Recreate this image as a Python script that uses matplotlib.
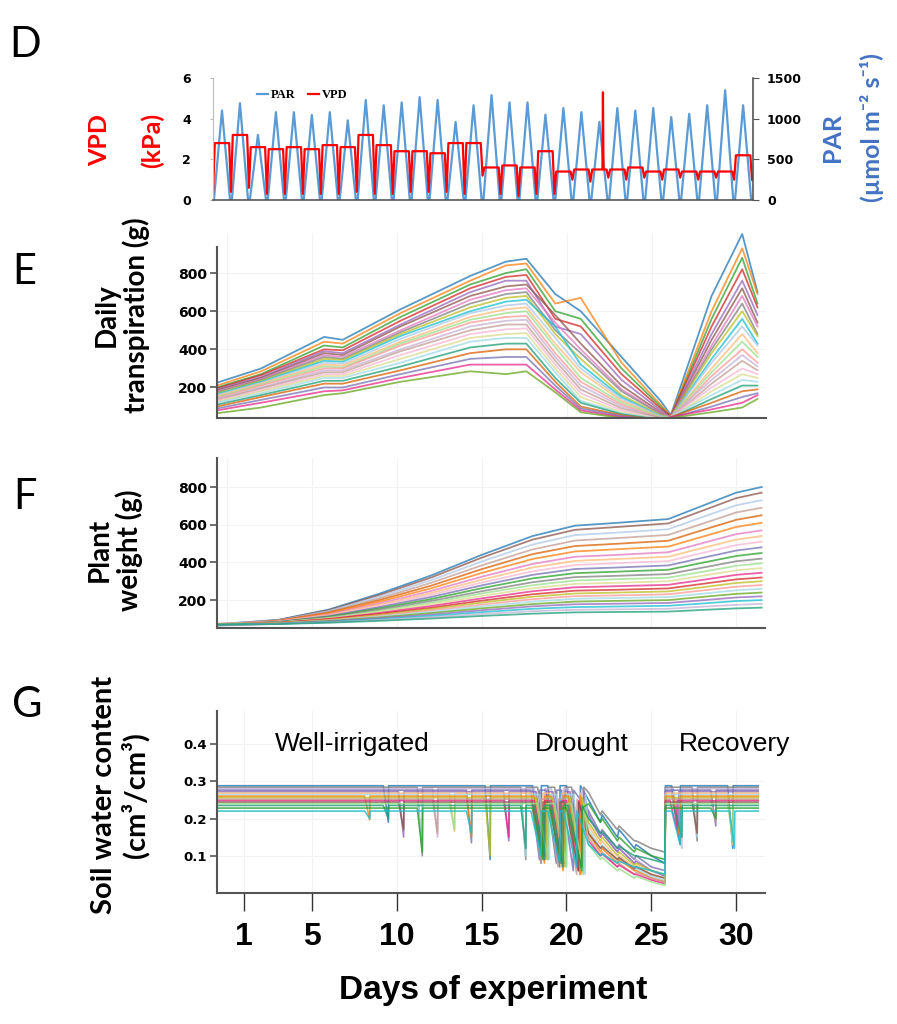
"""
Drought experiment overview: weather, transpiration, plant weight and soil water.
"""
import matplotlib.pyplot as plt

W, H = 897, 1024

# D: weather (daily PAR peak, VPD day plateau and night dip)
par_peaks = [1100, 1190, 800, 1080, 1080, 1045, 1080, 980, 1230, 1165,
             1200, 1265, 1230, 960, 1165, 1290, 1200, 1200, 1050, 1130,
             1080, 960, 1130, 1100, 1130, 1020, 1060, 1165, 1350, 1165]
vpd_high = [2.8, 3.2, 2.6, 2.5, 2.6, 2.5, 2.7, 2.6, 3.2, 2.7,
            2.4, 2.4, 2.3, 2.8, 2.8, 1.6, 1.7, 1.6, 2.4, 1.4,
            1.5, 1.5, 1.5, 1.6, 1.4, 1.5, 1.4, 1.4, 1.4, 2.2]
vpd_low = [0.3, 0.4, 0.6, 0.3, 0.3, 0.3, 0.3, 0.3, 0.4, 0.3,
           0.3, 0.4, 0.4, 0.4, 0.3, 1.2, 0.3, 0.2, 0.3, 0.3,
           1.0, 0.9, 1.1, 1.0, 1.1, 1.0, 1.1, 1.0, 1.1, 1.0]
vpd_spike = (21.7, 5.3)

# E: daily transpiration (g)
transp_days = [-0.6, 2.0, 5.7, 6.8, 10.2, 14.3, 16.4, 17.6,
               19.3, 20.8, 23.2, 25.5, 26.1, 28.5, 30.3, 31.2]
transp_curves = [
    [225, 300, 465, 450, 610, 785, 860, 875, 690, 600, 360, 130, 55, 680, 1005, 700],
    [210, 285, 440, 430, 590, 760, 840, 850, 640, 670, 330, 110, 50, 600, 930, 690],
    [200, 270, 420, 410, 570, 740, 800, 820, 600, 560, 300, 100, 45, 560, 880, 640],
    [195, 265, 400, 395, 550, 720, 780, 790, 560, 520, 270, 90, 50, 520, 820, 620],
    [190, 255, 390, 380, 530, 700, 760, 760, 520, 480, 240, 80, 45, 480, 760, 580],
    [185, 250, 380, 370, 520, 680, 730, 740, 580, 430, 210, 70, 40, 450, 720, 540],
    [180, 245, 370, 360, 500, 660, 710, 720, 540, 400, 190, 65, 45, 420, 680, 520],
    [175, 240, 360, 350, 490, 640, 690, 700, 500, 380, 180, 60, 40, 400, 640, 480],
    [170, 235, 350, 345, 480, 620, 670, 680, 480, 350, 160, 55, 45, 380, 600, 470],
    [165, 230, 340, 335, 470, 600, 650, 660, 520, 320, 150, 50, 40, 350, 560, 430],
    [160, 225, 330, 325, 455, 590, 630, 640, 460, 300, 140, 50, 45, 330, 520, 420],
    [155, 220, 320, 315, 440, 570, 610, 620, 430, 280, 130, 45, 40, 300, 480, 380],
    [150, 215, 310, 305, 430, 555, 590, 600, 410, 250, 120, 45, 45, 280, 440, 360],
    [145, 210, 300, 300, 420, 540, 570, 575, 380, 230, 110, 40, 40, 260, 400, 330],
    [140, 200, 290, 290, 400, 520, 550, 555, 360, 210, 100, 40, 45, 240, 370, 310],
    [135, 195, 280, 280, 390, 500, 530, 530, 340, 190, 90, 40, 40, 220, 340, 290],
    [130, 185, 270, 270, 370, 480, 505, 510, 320, 170, 80, 35, 45, 200, 300, 270],
    [125, 180, 260, 260, 350, 460, 480, 485, 300, 150, 70, 35, 40, 180, 270, 250],
    [120, 170, 250, 250, 330, 440, 460, 460, 280, 130, 65, 35, 45, 160, 240, 230],
    [110, 160, 235, 235, 310, 410, 430, 430, 250, 120, 60, 30, 40, 140, 210, 210],
    [100, 150, 220, 220, 290, 380, 400, 400, 230, 100, 55, 30, 45, 120, 180, 190],
    [90, 135, 200, 200, 270, 350, 360, 360, 210, 90, 50, 30, 40, 100, 150, 170],
    [80, 120, 180, 185, 250, 320, 320, 320, 190, 80, 45, 30, 45, 85, 120, 160],
    [65, 95, 160, 170, 230, 285, 270, 285, 175, 70, 40, 30, 40, 70, 95, 140],
]

# F: plant weight (g)
weight_days = [-0.6, 3, 6, 9, 12, 15, 18, 20.5, 23, 26, 28, 30, 31.5]
weight_curves = [
    [72, 95, 150, 235, 330, 440, 540, 595, 610, 630, 700, 770, 800],
    [70, 94, 147, 228, 319, 425, 521, 573, 588, 607, 674, 741, 770],
    [74, 92, 143, 219, 305, 405, 495, 545, 558, 576, 640, 703, 730],
    [68, 91, 138, 210, 291, 384, 469, 516, 529, 546, 605, 665, 690],
    [71, 90, 134, 201, 276, 364, 444, 487, 499, 515, 571, 626, 650],
    [66, 88, 129, 192, 262, 344, 418, 458, 470, 484, 536, 588, 610],
    [73, 87, 125, 183, 248, 324, 392, 430, 440, 454, 502, 550, 570],
    [69, 86, 122, 176, 237, 308, 373, 408, 418, 430, 476, 521, 540],
    [75, 85, 118, 169, 227, 293, 353, 386, 396, 407, 450, 492, 510],
    [67, 84, 115, 163, 216, 278, 334, 365, 373, 384, 424, 463, 480],
    [72, 83, 112, 156, 205, 263, 315, 343, 351, 361, 398, 434, 450],
    [70, 82, 109, 149, 195, 247, 295, 322, 329, 338, 372, 406, 420],
    [65, 81, 106, 143, 186, 235, 279, 304, 311, 319, 350, 382, 395],
    [73, 80, 103, 138, 177, 222, 263, 286, 292, 300, 329, 358, 370],
    [68, 79, 100, 132, 168, 209, 247, 268, 274, 281, 307, 334, 345],
    [71, 79, 98, 127, 159, 197, 231, 250, 255, 262, 286, 310, 320],
    [66, 78, 95, 122, 152, 187, 218, 235, 240, 246, 268, 291, 300],
    [74, 77, 93, 117, 145, 176, 205, 221, 225, 231, 251, 271, 280],
    [69, 76, 91, 113, 138, 166, 192, 207, 211, 216, 234, 252, 260],
    [72, 76, 89, 108, 131, 156, 179, 192, 196, 200, 217, 233, 240],
    [67, 75, 87, 104, 123, 146, 167, 178, 181, 185, 199, 214, 220],
    [70, 74, 84, 99, 116, 136, 154, 163, 166, 170, 182, 195, 200],
    [64, 74, 82, 95, 109, 126, 141, 149, 151, 154, 165, 175, 180],
    [68, 73, 80, 90, 102, 116, 128, 135, 137, 139, 148, 156, 160],
]

# G: soil water content per pot: level, dips (start, end, min), drought decline
swc_levels = [0.288, 0.284, 0.280, 0.276, 0.272, 0.268, 0.264, 0.260,
              0.256, 0.252, 0.248, 0.244, 0.240, 0.235, 0.228, 0.220]
swc_dips = [
    [(9.2, 9.5, 0.19), (15.2, 15.5, 0.09), (18.0, 18.5, 0.08), (18.9, 19.6, 0.07),
     (20.0, 20.8, 0.06), (26.2, 26.7, 0.13), (29.5, 29.8, 0.12)],
    [(11.2, 11.5, 0.10), (17.3, 17.6, 0.09), (18.3, 18.9, 0.09), (19.3, 19.9, 0.08),
     (20.3, 21.0, 0.06), (27.4, 27.7, 0.14)],
    [(12.1, 12.4, 0.15), (18.1, 18.7, 0.10), (19.1, 19.8, 0.07), (20.1, 20.9, 0.05),
     (26.3, 26.8, 0.12)],
    [(14.1, 14.4, 0.135), (17.9, 18.4, 0.09), (18.8, 19.4, 0.08), (19.7, 20.4, 0.06),
     (28.5, 28.8, 0.18)],
    [(10.1, 10.4, 0.15), (16.3, 16.6, 0.14), (18.2, 18.8, 0.10), (19.2, 19.9, 0.08),
     (20.2, 21.0, 0.07), (26.2, 26.6, 0.15)],
    [(13.1, 13.4, 0.165), (18.0, 18.6, 0.09), (19.0, 19.7, 0.07), (20.0, 20.8, 0.05),
     (29.5, 29.8, 0.13)],
    [(11.2, 11.5, 0.12), (17.3, 17.6, 0.10), (18.4, 19.0, 0.09), (19.4, 20.0, 0.07),
     (20.4, 21.1, 0.05), (27.4, 27.7, 0.15)],
    [(8.1, 8.4, 0.197), (14.1, 14.4, 0.15), (18.1, 18.7, 0.08), (19.1, 19.8, 0.06),
     (20.1, 20.8, 0.05), (26.3, 26.7, 0.14)],
    [(15.2, 15.5, 0.10), (18.2, 18.8, 0.09), (19.2, 19.9, 0.07), (20.2, 20.9, 0.055)],
    [(12.1, 12.4, 0.16), (17.9, 18.5, 0.08), (18.9, 19.5, 0.07), (19.9, 20.6, 0.05),
     (28.5, 28.8, 0.19)],
    [(16.3, 16.6, 0.15), (18.1, 18.7, 0.09), (19.1, 19.7, 0.08), (20.0, 20.7, 0.06),
     (26.1, 26.5, 0.17)],
    [(10.1, 10.4, 0.17), (18.0, 18.6, 0.10), (19.0, 19.6, 0.08), (19.9, 20.7, 0.06),
     (27.4, 27.7, 0.16)],
    [(13.1, 13.4, 0.17), (18.3, 18.9, 0.09), (19.3, 20.0, 0.07), (20.3, 21.0, 0.05),
     (29.5, 29.8, 0.14)],
    [(9.2, 9.5, 0.20), (17.3, 17.6, 0.12), (18.1, 18.7, 0.09), (19.1, 19.8, 0.07),
     (20.1, 20.9, 0.06), (26.3, 26.8, 0.15)],
    [(11.2, 11.5, 0.11), (18.0, 18.6, 0.09), (19.0, 19.7, 0.08), (20.0, 20.9, 0.07),
     (28.5, 28.8, 0.20)],
    [(8.1, 8.4, 0.20), (14.1, 14.4, 0.16), (17.9, 18.5, 0.10), (18.9, 19.6, 0.08),
     (19.8, 20.6, 0.07), (26.2, 26.7, 0.13), (29.6, 29.9, 0.12)],
]
swc_final_days = [21.3, 22.0, 22.1, 23.0, 23.1, 24.0, 24.1, 25.0, 25.8]
swc_final = [
    [0.25, 0.19, 0.21, 0.15, 0.17, 0.12, 0.13, 0.10, 0.08],
    [0.27, 0.21, 0.22, 0.17, 0.18, 0.14, 0.14, 0.12, 0.11],
    [0.20, 0.15, 0.16, 0.11, 0.12, 0.08, 0.09, 0.06, 0.05],
    [0.22, 0.16, 0.17, 0.12, 0.13, 0.09, 0.10, 0.07, 0.06],
    [0.21, 0.15, 0.16, 0.11, 0.12, 0.08, 0.085, 0.06, 0.045],
    [0.18, 0.13, 0.14, 0.09, 0.10, 0.07, 0.075, 0.05, 0.04],
    [0.17, 0.12, 0.13, 0.085, 0.095, 0.06, 0.065, 0.045, 0.035],
    [0.16, 0.11, 0.12, 0.08, 0.09, 0.06, 0.06, 0.04, 0.03],
    [0.19, 0.14, 0.15, 0.10, 0.11, 0.075, 0.08, 0.06, 0.05],
    [0.15, 0.10, 0.11, 0.07, 0.08, 0.05, 0.055, 0.04, 0.03],
    [0.14, 0.10, 0.105, 0.07, 0.075, 0.05, 0.05, 0.035, 0.025],
    [0.16, 0.12, 0.125, 0.09, 0.095, 0.065, 0.07, 0.05, 0.04],
    [0.13, 0.09, 0.095, 0.06, 0.065, 0.04, 0.045, 0.03, 0.02],
    [0.20, 0.16, 0.165, 0.12, 0.125, 0.10, 0.10, 0.09, 0.08],
    [0.24, 0.19, 0.20, 0.14, 0.15, 0.11, 0.12, 0.10, 0.09],
    [0.13, 0.10, 0.105, 0.08, 0.085, 0.07, 0.07, 0.06, 0.05],
]

day_ticks = [1, 5, 10, 15, 20, 25, 30]
phase_labels = ["Well-irrigated", "Drought", "Recovery"]

palette = ['#1f77b4', '#ff7f0e', '#2ca02c', '#d62728', '#9467bd', '#8c564b',
           '#e377c2', '#7f7f7f', '#bcbd22', '#17becf', '#aec7e8', '#ffbb78',
           '#98df8a', '#ff9896', '#c5b0d5', '#c49c94', '#f7b6d2', '#dbdb8d',
           '#9edae5', '#1b9e77', '#d95f02', '#7570b3', '#e7298a', '#66a61e']
PAR_BLUE = '#5b9bd5'
LABEL_BLUE = '#4472c4'
SPINE = '#555555'

plt.rcParams['font.family'] = ['Lato', 'DejaVu Sans']


def rect(x0, y0, x1, y1):
    return [x0 / W, 1 - y1 / H, (x1 - x0) / W, (y1 - y0) / H]


def ftext(x, y, s, **kw):
    fig.text(x / W, 1 - y / H, s, ha='center', va='center', **kw)


def style_panel(ax, ylim, yticks, spine_top):
    ax.set_xlim(-0.6, 31.7)
    ax.set_ylim(*ylim)
    for side in ('top', 'right'):
        ax.spines[side].set_visible(False)
    for side in ('left', 'bottom'):
        ax.spines[side].set_color(SPINE)
        ax.spines[side].set_linewidth(1.5)
    ax.spines['left'].set_bounds(ylim[0], spine_top)
    ax.set_yticks(yticks)
    ax.tick_params(axis='y', length=5, width=1.2, color=SPINE, pad=2)
    ax.tick_params(axis='x', bottom=False, labelbottom=False)
    for lab in ax.get_yticklabels():
        lab.set_family('DejaVu Sans')
        lab.set_fontweight('bold')
        lab.set_fontsize(10)
    ax.grid(color='#f2f2f2', linewidth=0.8)
    ax.set_axisbelow(True)


fig = plt.figure(figsize=(W / 100, H / 100), dpi=100)

# ---- D: PAR (right axis) and VPD (left axis) ----
ax_par = fig.add_axes(rect(213, 78, 753, 200))
ax_vpd = ax_par.twinx()
par_t, par_v = [0.0], [0.0]
for d, p in enumerate(par_peaks):
    par_t += [d + 0.05, d + 0.5, d + 0.95]
    par_v += [0, p, 0]
vpd_t, vpd_v = [], []
for d, (lo, hi) in enumerate(zip(vpd_low, vpd_high)):
    vpd_t += [d, d + 0.1, d + 0.9]
    vpd_v += [lo, hi, hi]
    if d < vpd_spike[0] < d + 1:
        i = vpd_t.index(d + 0.9)
        vpd_t[i:i] = [vpd_spike[0] - 0.03, vpd_spike[0], vpd_spike[0] + 0.03]
        vpd_v[i:i] = [hi, vpd_spike[1], hi]
vpd_t.append(len(vpd_low))
vpd_v.append(vpd_low[-1])

h_par, = ax_par.plot(par_t, par_v, color=PAR_BLUE, lw=1.6, label='PAR')
h_vpd, = ax_vpd.plot(vpd_t, vpd_v, color='#ff0000', lw=1.6, label='VPD')
ax_par.set_xlim(0, 30.05)
ax_par.set_ylim(0, 1500)
ax_vpd.set_ylim(0, 6)
ax_par.yaxis.tick_right()
ax_vpd.yaxis.tick_left()
ax_par.set_yticks([0, 500, 1000, 1500])
ax_vpd.set_yticks([0, 2, 4, 6])
ax_par.tick_params(axis='x', bottom=False, labelbottom=False)
ax_par.tick_params(axis='y', length=4, color=SPINE, pad=6)
ax_vpd.tick_params(axis='y', length=2, color='#bbbbbb', pad=14)
for a in (ax_par, ax_vpd):
    a.spines['top'].set_visible(False)
    for lab in a.get_yticklabels():
        lab.set_family('DejaVu Sans')
        lab.set_fontweight('bold')
        lab.set_fontsize(9)
ax_vpd.spines['left'].set_color('#bbbbbb')
ax_vpd.spines['right'].set_color(SPINE)
ax_vpd.spines['right'].set_linewidth(1.2)
ax_vpd.spines['bottom'].set_color(SPINE)
ax_vpd.spines['bottom'].set_linewidth(1.2)
ax_par.spines['left'].set_visible(False)
ax_par.spines['right'].set_visible(False)
ax_par.spines['bottom'].set_visible(False)
ax_vpd.legend([h_par, h_vpd], ['PAR', 'VPD'], loc='upper left',
              bbox_to_anchor=(0.06, 1.0), ncol=2, frameon=False,
              handlelength=0.9, handletextpad=0.2, columnspacing=1.0,
              prop={'family': 'Liberation Serif', 'weight': 'bold', 'size': 9})

# ---- E: daily transpiration ----
ax_e = fig.add_axes(rect(217, 233, 766, 418))
for i, curve in enumerate(transp_curves):
    ax_e.plot(transp_days, curve, color=palette[i % len(palette)], lw=1.3, alpha=0.75)
style_panel(ax_e, (40, 1010), [200, 400, 600, 800], 935)

# ---- F: plant weight ----
ax_f = fig.add_axes(rect(217, 458, 765, 628))
for i, curve in enumerate(weight_curves):
    ax_f.plot(weight_days, curve, color=palette[(i * 5) % len(palette)], lw=1.3, alpha=0.75)
style_panel(ax_f, (52, 954), [200, 400, 600, 800], 954)

# ---- G: soil water content ----
ax_g = fig.add_axes(rect(217, 710.5, 765, 893))
for i, level in enumerate(swc_levels):
    t, v = [-0.6], [level]
    for s, e, m in swc_dips[i]:
        if s < swc_final_days[0]:
            t += [s, e, e + 0.02]
            v += [level, m, level]
    t += swc_final_days
    v += swc_final[i]
    t.append(swc_final_days[-1] + 0.03)
    v.append(level)
    for s, e, m in swc_dips[i]:
        if s > swc_final_days[-1]:
            t += [s, e, e + 0.02]
            v += [level, m, level]
    t.append(31.3)
    v.append(level)
    ax_g.plot(t, v, color=palette[(i * 7) % len(palette)], lw=1.2, alpha=0.8)
style_panel(ax_g, (0, 0.49), [0.1, 0.2, 0.3, 0.4], 0.49)
ax_g.set_yticklabels(['0.1', '0.2', '0.3', '0.4'], family='DejaVu Sans',
                     fontweight='bold', fontsize=9.5)
ax_g.set_xticks(day_ticks)
ax_g.tick_params(axis='x', bottom=True, labelbottom=True, length=13, width=1,
                 color='#333333', pad=8, labelsize=23)
for lab in ax_g.get_xticklabels():
    lab.set_family('Liberation Sans')
    lab.set_fontweight('bold')
for x, label in zip([7.4, 20.9, 29.9], phase_labels):
    ax_g.text(x, 0.40, label, ha='center', va='center', fontsize=19,
              family='Liberation Sans')

ftext(493, 990, 'Days of experiment', fontsize=24, fontweight='bold',
      family='Liberation Sans')

# axis titles
ftext(100, 140, 'VPD', color='#ff0000', fontsize=18, fontweight='bold', rotation=90)
ftext(152, 140, '(kPa)', color='#ff0000', fontsize=18, fontweight='bold', rotation=90)
ftext(832, 137, 'PAR', color=LABEL_BLUE, fontsize=18, fontweight='bold', rotation=90)
ftext(872, 128, '(µmol m⁻² s⁻¹)', color=LABEL_BLUE,
      fontsize=18, fontweight='bold', rotation=90)
ftext(122, 315, 'Daily\ntranspiration (g)', fontsize=20, fontweight='bold',
      rotation=90, linespacing=1.15)
ftext(115, 550, 'Plant\nweight (g)', fontsize=20, fontweight='bold',
      rotation=90, linespacing=1.15)
ftext(120, 795, 'Soil water content\n(cm³/cm³)', fontsize=21, fontweight='bold',
      rotation=90, linespacing=1.15)

# panel letters
for x, y, letter in [(25, 45, 'D'), (24, 272, 'E'), (25, 497, 'F'), (27, 705, 'G')]:
    ftext(x, y, letter, fontsize=30)

fig.savefig('out.png', dpi=100, facecolor='white')
